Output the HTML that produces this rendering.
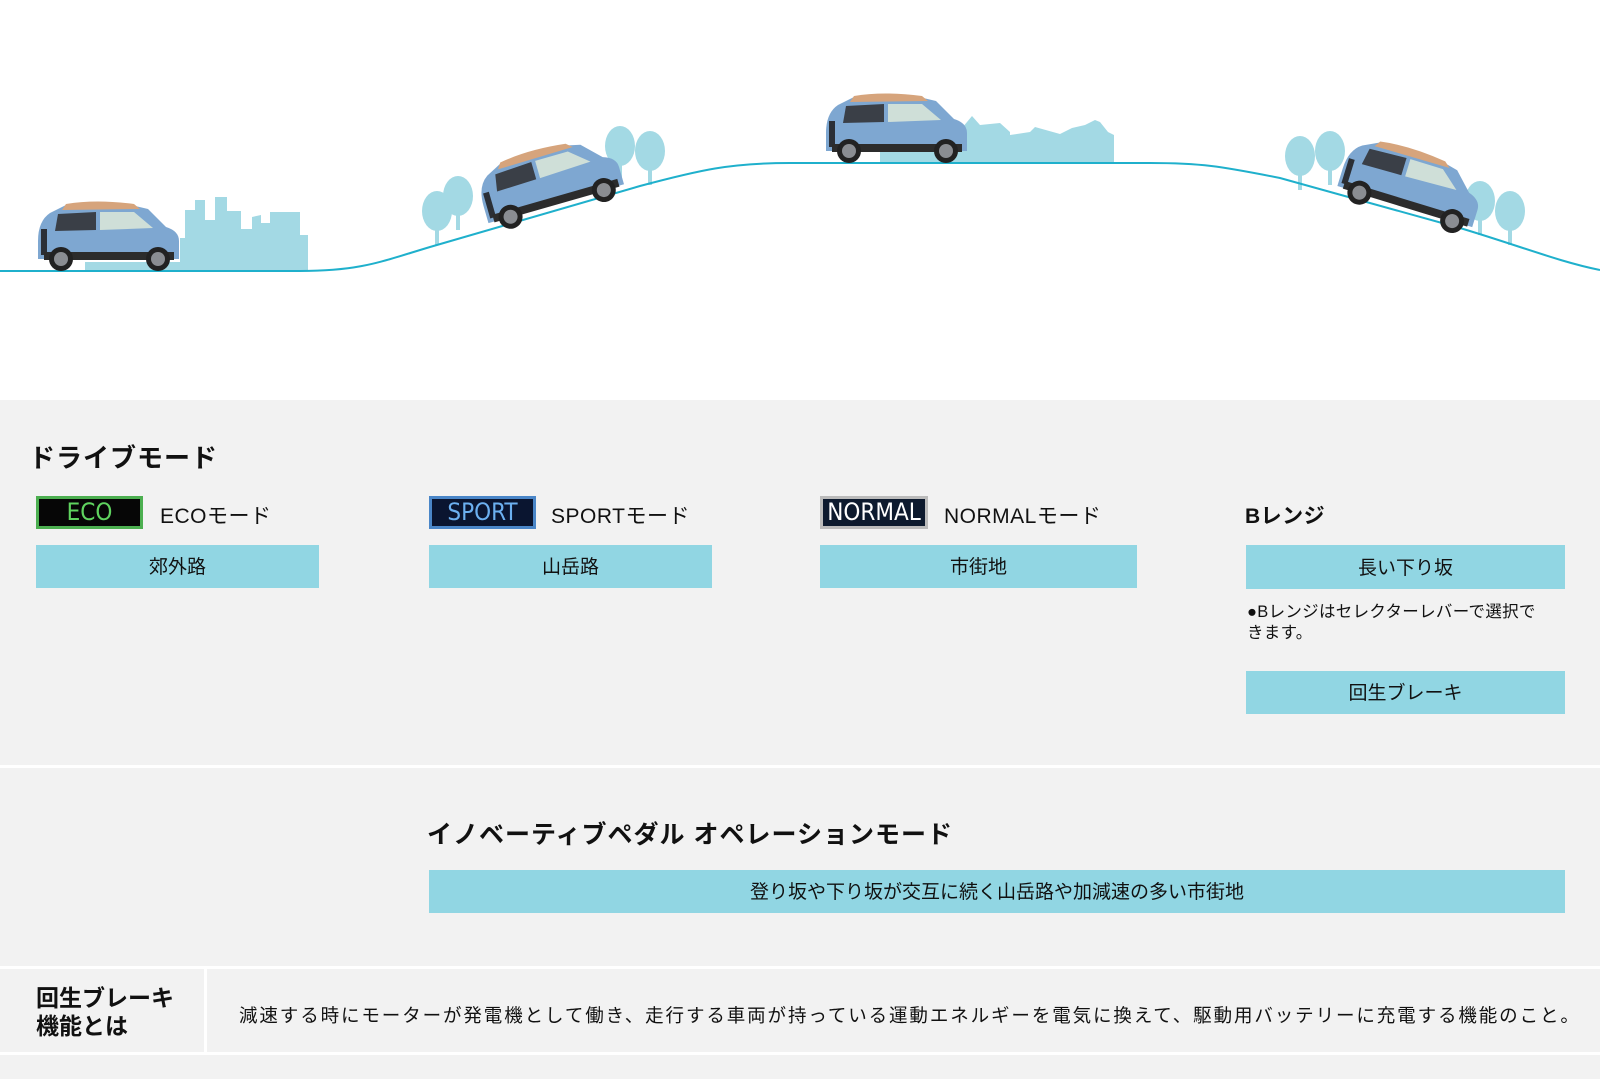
<!DOCTYPE html>
<html><head><meta charset="utf-8"><style>
*{margin:0;padding:0;box-sizing:border-box}
body{width:1600px;height:1079px;background:#f2f2f2;font-family:"Liberation Sans","Noto Sans CJK JP",sans-serif;color:#111;position:relative;overflow:hidden}
.top{position:absolute;left:0;top:0;width:1600px;height:400px;background:#fff}
.a{position:absolute}
.box{position:absolute;background:#91d6e3;font-size:19px;text-align:center;color:#111;padding-top:3px}
.badge{position:absolute;height:33px;font-family:"DejaVu Sans Condensed","Liberation Sans",sans-serif;font-size:24px;text-align:center;line-height:27px;background:#060606}
.lbl{position:absolute;font-size:21px;letter-spacing:0.5px}
.wl{position:absolute;background:#fff}
</style></head><body>
<div class="top">
<svg width="1600" height="400" viewBox="0 0 1600 400">
<defs>
<g id="car">
<path d="M2,42 Q2,22 14,14 L30,6 Q60,2 95,6 L112,10 L130,28 Q143,32 143,42 L143,60 L2,60 Z" fill="#7ea7d1"/>
<path d="M30,5 Q60,0 98,5 L104,10 L26,11 Z" fill="#d6a47c"/>
<path d="M22,15 L60,13 L60,31 L19,32 Z" fill="#3a3f47"/>
<path d="M64,13 L98,13 L117,29 L64,31 Z" fill="#cfdfd8"/>
<path d="M8,30 L8,56" stroke="#2b2f36" stroke-width="6"/>
<rect x="8" y="53" width="130" height="8" fill="#2c2c2c"/>
<circle cx="25" cy="60" r="12" fill="#222"/><circle cx="25" cy="60" r="7" fill="#8a8d92"/>
<circle cx="122" cy="60" r="12" fill="#222"/><circle cx="122" cy="60" r="7" fill="#8a8d92"/>
</g>
<g id="tree"><rect x="-2" y="0" width="4" height="30" fill="#a3d9e4"/><ellipse cx="0" cy="-4" rx="15" ry="20" fill="#a3d9e4"/></g>
</defs>
<path d="M85,271 L85,262 L180,262 L180,238 L185,238 L185,210 L195,210 L195,200 L205,200 L205,220 L215,220 L215,197 L227,197 L227,211 L241,211 L241,229 L252,229 L252,217 L261,215 L261,223 L270,223 L270,212 L300,212 L300,235 L308,235 L308,271 Z" fill="#a3d9e4"/>
<use href="#tree" x="437" y="215"/><use href="#tree" x="458" y="200"/>
<use href="#tree" x="620" y="150"/><use href="#tree" x="650" y="155"/>
<path d="M880,163 L880,150 L962,150 L962,128 L972,116 L980,125 L1000,123 L1010,132 L1010,135 L1030,132 L1035,127 L1060,134 L1072,128 L1085,125 L1095,120 L1100,122 L1108,132 L1114,135 L1114,163 Z" fill="#a3d9e4"/>
<use href="#tree" x="1300" y="160"/><use href="#tree" x="1330" y="155"/>
<use href="#tree" x="1480" y="205"/><use href="#tree" x="1510" y="215"/>
<path d="M0,271 L300,271 C360,271 380,262 430,247 L640,186 C700,170 730,163 790,163 L1150,163 C1200,163 1220,166 1280,178 L1460,228 C1520,246 1560,262 1600,270" fill="none" stroke="#1fb0cc" stroke-width="2"/>
<use href="#car" transform="translate(36,199)"/>
<use href="#car" transform="translate(470,166) rotate(-16)"/>
<use href="#car" transform="translate(824,91)"/>
<use href="#car" transform="translate(1353,128) rotate(17)"/>
</svg>
</div>

<div class="a" style="left:29px;top:438px;font-size:26px;font-weight:bold;letter-spacing:1px">ドライブモード</div>

<div class="badge" style="left:36px;top:496px;width:107px;border:3px solid #4caf50;color:#5fd35f">ECO</div>
<div class="lbl" style="left:160px;top:500px">ECOモード</div>
<div class="badge" style="left:429px;top:496px;width:107px;border:3px solid #4a86c8;color:#6cb0f0;background:#0a1530">SPORT</div>
<div class="lbl" style="left:551px;top:500px">SPORTモード</div>
<div class="badge" style="left:820px;top:496px;width:108px;border:3px solid #bbb;color:#fff;background:#0d1a2e">NORMAL</div>
<div class="lbl" style="left:944px;top:500px">NORMALモード</div>
<div class="lbl" style="left:1245px;top:500px;font-weight:bold">Bレンジ</div>

<div class="box" style="left:36px;top:545px;width:283px;height:43px;line-height:40px">郊外路</div>
<div class="box" style="left:429px;top:545px;width:283px;height:43px;line-height:40px">山岳路</div>
<div class="box" style="left:820px;top:545px;width:317px;height:43px;line-height:40px">市街地</div>
<div class="box" style="left:1246px;top:545px;width:319px;height:44px;line-height:41px">長い下り坂</div>
<div class="a" style="left:1247px;top:602px;width:340px;font-size:16.5px;line-height:21px;letter-spacing:0.3px;white-space:nowrap">●Bレンジはセレクターレバーで選択で<br>きます。</div>
<div class="box" style="left:1246px;top:671px;width:319px;height:43px;line-height:40px">回生ブレーキ</div>

<div class="wl" style="left:0;top:765px;width:1600px;height:3px"></div>
<div class="a" style="left:427px;top:815px;font-size:25px;font-weight:bold;letter-spacing:1px">イノベーティブペダル オペレーションモード</div>
<div class="box" style="left:429px;top:870px;width:1136px;height:43px;line-height:40px">登り坂や下り坂が交互に続く山岳路や加減速の多い市街地</div>

<div class="wl" style="left:0;top:966px;width:1600px;height:3px"></div>
<div class="wl" style="left:204px;top:969px;width:3px;height:83px"></div>
<div class="wl" style="left:0;top:1052px;width:1600px;height:3px"></div>
<div class="a" style="left:36px;top:984px;font-size:23px;font-weight:bold;line-height:28px">回生ブレーキ<br>機能とは</div>
<div class="a" style="left:239px;top:1002px;font-size:18.5px;letter-spacing:1.9px;white-space:nowrap">減速する時にモーターが発電機として働き、走行する車両が持っている運動エネルギーを電気に換えて、駆動用バッテリーに充電する機能のこと。</div>
</body></html>
